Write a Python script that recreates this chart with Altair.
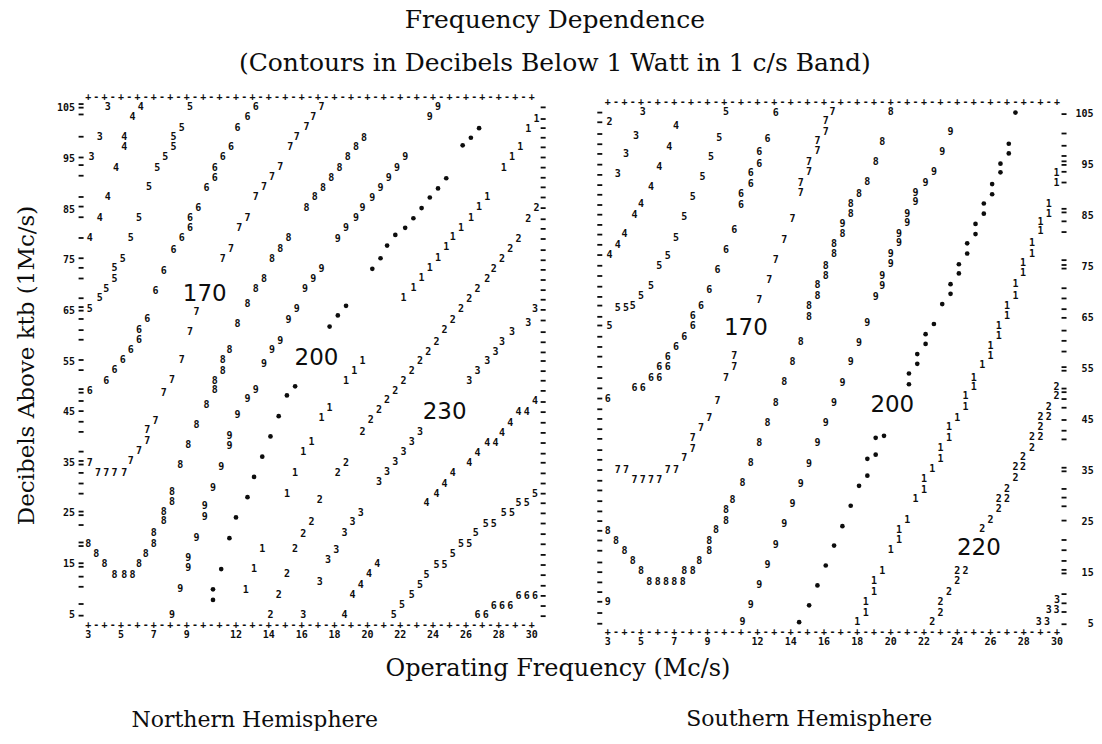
import altair as alt
import pandas as pd

SERIF = "DejaVu Serif"
MONO = "DejaVu Sans Mono"
SANS = "DejaVu Sans"
INK = "#0d0d0d"

# ---------------- axis annotation values ----------------
Y_TICKS = [105, 95, 85, 75, 65, 55, 45, 35, 25, 15, 5]
X_TICKS = [3, 5, 7, 9, 12, 14, 16, 18, 20, 22, 24, 26, 28, 30]
BORDER_PLUS = [3, 4, 5, 6, 7, 8, 9, 10, 11, 12, 13, 14, 15, 16, 17, 18, 19, 20,
               21, 22, 23, 24, 25, 26, 27, 28, 29, 30]

# ---------------- Northern hemisphere (frequency Mc/s, dB above ktb, contour digit) ----------------
NH_UPPER = [
    (4.2, 105.2, "3"), (6.2, 105.2, "4"), (9.2, 105.2, "5"), (13.2, 105.3, "6"), (17.2, 105.3, "7"), (24.3, 105.3, "9"),
    (5.7, 103.3, "4"), (12.7, 103.3, "6"), (16.7, 103.3, "7"), (23.8, 103.3, "9"), (30.3, 103.0, "1"),
    (8.7, 101.2, "5"), (12.1, 101.2, "6"), (16.3, 101.3, "7"), (29.8, 100.9, "1"),
    (3.7, 99.4, "3"), (5.2, 99.4, "4"), (8.2, 99.4, "5"), (15.7, 99.4, "7"), (19.8, 99.2, "8"),
    (5.2, 97.4, "4"), (8.2, 97.3, "5"), (11.7, 97.3, "6"), (15.3, 97.3, "7"), (19.3, 97.3, "8"), (29.3, 97.3, "1"),
    (3.2, 95.3, "3"), (7.7, 95.3, "5"), (11.2, 95.3, "6"), (18.8, 95.3, "8"), (22.3, 95.4, "9"), (28.8, 95.3, "1"),
    (4.7, 93.3, "4"), (7.2, 93.2, "5"), (10.7, 93.2, "6"), (14.7, 93.5, "7"), (18.3, 93.3, "8"), (21.8, 93.3, "9"), (28.3, 93.2, "1"),
    (10.7, 91.3, "6"), (14.2, 91.5, "7"), (17.8, 91.2, "8"), (21.3, 91.3, "9"),
    (6.7, 89.4, "5"), (10.2, 89.2, "6"), (13.7, 89.5, "7"), (17.3, 89.2, "8"), (20.8, 89.2, "9"),
    (4.2, 87.4, "4"), (13.2, 87.5, "7"), (16.8, 87.4, "8"), (20.3, 87.3, "9"), (27.3, 87.5, "1"),
    (9.7, 85.3, "6"), (16.3, 85.3, "8"), (19.7, 85.3, "9"), (26.8, 85.6, "1"), (30.3, 85.3, "2"),
    (3.7, 83.3, "4"), (6.1, 83.3, "5"), (9.2, 83.3, "6"), (12.7, 83.3, "7"), (19.3, 83.3, "9"), (26.3, 83.3, "1"), (29.8, 83.1, "2"),
    (9.2, 81.4, "6"), (12.2, 81.4, "7"), (18.7, 81.4, "9"), (25.7, 81.4, "1"),
    (3.1, 79.4, "4"), (5.6, 79.4, "5"), (8.7, 79.4, "6"), (15.2, 79.4, "8"), (18.2, 79.2, "9"), (25.2, 79.5, "1"), (29.2, 79.2, "2"),
    (8.2, 77.0, "6"), (11.7, 77.2, "7"), (14.7, 77.2, "8"), (24.8, 77.7, "1"), (28.7, 77.2, "2"),
    (5.1, 75.2, "5"), (11.2, 75.2, "7"), (14.2, 75.2, "8"), (24.3, 75.4, "1"), (28.2, 75.2, "2"),
]
NH_MIDDLE = [
    (4.6, 73.4, "5"), (7.6, 72.9, "6"), (17.2, 73.3, "9"), (23.8, 73.4, "1"), (27.7, 73.3, "2"),
    (4.6, 71.3, "5"), (13.7, 71.3, "8"), (16.7, 71.3, "9"), (23.3, 71.5, "1"), (27.3, 71.3, "2"),
    (4.1, 69.3, "5"), (7.1, 68.9, "6"), (13.2, 69.3, "8"), (16.2, 69.3, "9"), (22.8, 69.5, "1"), (26.7, 69.3, "2"),
    (3.7, 67.5, "5"), (12.7, 66.4, "8"), (22.2, 67.5, "1"), (26.2, 67.3, "2"),
    (3.1, 65.4, "5"), (9.6, 64.7, "7"), (15.7, 65.4, "9"), (25.7, 65.4, "2"), (30.2, 65.4, "3"),
    (6.6, 63.4, "6"), (12.1, 62.5, "8"), (15.2, 63.2, "9"), (25.2, 63.2, "2"), (29.8, 62.7, "3"),
    (6.1, 61.2, "6"), (9.2, 60.8, "7"), (24.7, 61.2, "2"), (28.8, 60.8, "3"),
    (6.1, 59.3, "6"), (14.7, 59.1, "9"), (24.2, 58.8, "2"), (28.2, 58.8, "3"),
    (5.6, 57.3, "6"), (11.6, 57.2, "8"), (14.2, 57.2, "9"), (23.7, 56.8, "2"), (27.8, 56.8, "3"),
    (5.1, 55.3, "6"), (8.7, 55.2, "7"), (11.2, 55.2, "8"), (19.7, 55.1, "1"), (23.2, 55.1, "2"), (27.3, 55.1, "3"),
    (13.7, 54.6, "9"),
    (4.6, 53.3, "6"), (11.2, 53.1, "8"), (19.2, 53.1, "1"), (22.7, 53.1, "2"), (26.7, 53.1, "3"),
    (4.1, 51.2, "6"), (8.1, 51.3, "7"), (10.7, 51.2, "8"), (18.7, 51.2, "1"), (22.2, 51.2, "2"), (26.2, 51.2, "3"),
    (3.1, 49.2, "6"), (7.6, 48.8, "7"), (10.7, 49.3, "8"), (13.2, 49.3, "9"), (21.7, 49.2, "2"),
    (12.7, 47.5, "9"), (21.2, 47.4, "2"), (30.2, 47.2, "4"),
    (10.2, 46.4, "8"), (17.7, 45.9, "1"), (20.7, 45.4, "2"), (29.7, 45.1, "4"), (29.2, 45.1, "4"),
    (12.1, 44.4, "9"), (17.2, 43.9, "1"), (20.2, 43.4, "2"), (7.1, 43.3, "7"), (28.7, 42.9, "4"),
    (9.6, 42.4, "8"), (6.6, 41.4, "7"), (19.7, 41.1, "2"), (23.2, 41.1, "3"), (28.2, 40.9, "4"),
    (11.6, 40.3, "9"),
]
NH_LOWER = [
    (6.6, 39.3, "7"), (16.6, 39.1, "1"), (22.7, 39.1, "3"), (27.8, 38.9, "4"), (27.3, 38.9, "4"),
    (9.1, 38.5, "8"), (11.6, 38.3, "9"),
    (6.1, 37.3, "7"), (16.1, 37.2, "1"), (22.2, 37.2, "3"), (26.7, 37.0, "4"),
    (3.1, 35.0, "7"), (5.6, 35.3, "7"), (18.7, 35.0, "2"), (21.7, 35.2, "3"), (26.2, 35.0, "4"),
    (8.6, 34.5, "8"), (11.1, 34.2, "9"),
    (3.6, 33.0, "7"), (4.1, 33.0, "7"), (4.6, 33.0, "7"), (5.2, 33.0, "7"), (15.6, 32.9, "1"), (18.2, 32.9, "2"),
    (21.2, 33.2, "3"), (25.2, 32.9, "4"),
    (20.7, 31.2, "3"), (24.7, 30.9, "4"), (10.6, 30.1, "9"),
    (8.1, 29.3, "8"), (15.1, 28.9, "1"), (24.2, 28.9, "4"), (30.2, 28.9, "5"),
    (17.1, 27.6, "2"), (8.1, 27.2, "8"), (23.6, 27.0, "4"), (29.7, 27.0, "5"), (29.2, 27.0, "5"),
    (10.1, 26.4, "9"),
    (7.6, 25.3, "8"), (19.6, 25.1, "3"), (28.8, 25.0, "5"), (28.3, 25.0, "5"),
    (10.1, 24.3, "9"),
    (7.6, 23.4, "8"), (16.6, 23.2, "2"), (19.1, 23.2, "3"), (27.7, 23.0, "5"), (27.2, 23.0, "5"),
    (7.0, 21.2, "8"), (18.6, 21.2, "3"), (26.6, 21.1, "5"), (16.1, 20.9, "2"),
    (9.6, 20.1, "9"),
    (3.0, 18.9, "8"), (7.0, 18.9, "8"), (26.2, 18.9, "5"), (25.7, 18.9, "5"),
    (13.6, 17.9, "1"), (15.6, 17.9, "2"), (18.1, 17.8, "3"),
    (3.5, 17.0, "8"), (6.5, 17.0, "8"), (25.2, 17.0, "5"),
    (9.1, 16.1, "9"), (17.6, 15.8, "3"),
    (4.0, 15.0, "8"), (6.1, 15.0, "8"), (20.6, 15.0, "4"), (24.7, 14.8, "5"), (24.2, 14.8, "5"),
    (9.1, 14.2, "9"), (13.1, 14.0, "1"),
    (4.6, 12.8, "8"), (5.2, 12.8, "8"), (5.7, 12.8, "8"), (15.1, 13.0, "2"), (20.1, 13.0, "4"), (23.6, 12.8, "5"),
    (17.1, 11.5, "3"), (19.6, 10.9, "4"), (23.2, 10.9, "5"),
    (8.6, 10.0, "9"), (12.6, 9.9, "1"),
    (14.6, 8.9, "2"), (19.1, 8.9, "4"), (22.7, 8.9, "5"), (29.2, 8.7, "6"), (29.7, 8.7, "6"), (30.2, 8.7, "6"),
    (22.1, 6.9, "5"), (27.7, 6.7, "6"), (28.2, 6.7, "6"), (28.7, 6.7, "6"),
    (8.1, 4.9, "9"), (14.1, 4.9, "2"), (16.1, 4.9, "3"), (18.6, 4.9, "4"), (21.6, 4.9, "5"), (26.7, 4.9, "6"), (27.2, 4.9, "6"),
]
NH_DOTS = [
    (26.8, 101.1), (26.3, 99.2), (25.8, 97.7), (24.8, 91.2), (24.3, 89.2), (23.8, 87.4), (23.3, 85.3),
    (22.8, 83.3), (22.3, 81.4), (21.7, 80.0), (21.2, 77.9), (20.8, 75.4), (20.3, 73.3),
    (18.7, 66.0), (18.2, 64.1), (17.7, 61.9), (15.6, 50.1), (15.1, 48.3), (14.6, 44.2), (14.1, 40.2),
    (13.6, 36.2), (13.1, 32.2), (12.7, 28.2), (12.0, 24.2), (11.6, 20.1), (11.1, 14.0), (10.6, 10.0), (10.6, 7.9),
]
NH_LEVELS = [("170", 10.1, 68.3), ("200", 16.9, 55.7), ("230", 24.7, 45.1)]
NH_LEFT_MARKS = [(105.5, "="), (103.8, "-"), (99.4, "-"), (95.3, "-"), (93.8, "-"), (91.7, "-"), (87.5, "-"),
                 (85.6, "-"), (83.5, "-"), (79.4, "-"), (75.4, "-"), (73.5, "-"), (71.4, "-"), (67.5, "-"),
                 (65.4, "="), (63.4, "-"), (61.2, "-"), (59.3, "-"), (55.3, "-"), (53.3, "-"), (49.2, "="),
                 (47.2, "-"), (45.2, "-"), (43.1, "-"), (41.1, "-"), (37.2, "-"), (35.0, "="), (33.0, "-"),
                 (30.9, "-"), (28.9, "-"), (25.0, "="), (22.7, "-"), (18.9, "="), (14.8, "="), (12.5, "-"),
                 (10.5, "-"), (7.1, "-"), (4.8, "-")]
NH_RIGHT_MARKS = [105.2, 102.9, 101.1, 99.2, 97.3, 95.3, 93.3, 91.3, 89.4, 87.4, 85.3, 83.1, 81.2, 79.2,
                  77.0, 75.0, 73.1, 71.1, 69.1, 67.2, 65.2, 63.1, 60.8, 58.8, 56.8, 55.1, 53.1, 51.2, 49.2,
                  47.0, 45.0, 42.9, 40.9, 38.9, 36.8, 35.0, 32.9, 30.9, 28.9, 27.0, 25.0, 23.0, 20.9, 18.9,
                  16.8, 14.8, 12.8, 10.7, 8.7, 6.7, 4.7]

# ---------------- Southern hemisphere ----------------
SH_UPPER = [
    (5.1, 105.4, "3"), (10.1, 105.4, "5"), (13.1, 105.2, "6"), (16.5, 105.4, "7"), (20.0, 105.4, "8"),
    (3.1, 103.3, "2"), (7.1, 102.6, "4"), (16.1, 103.6, "7"),
    (4.7, 100.6, "3"), (9.7, 100.3, "5"), (12.6, 100.0, "6"), (16.1, 101.3, "7"), (23.6, 101.3, "9"),
    (15.6, 99.7, "7"), (19.5, 99.5, "8"),
    (6.7, 98.5, "4"), (15.6, 97.7, "7"), (12.1, 97.4, "6"), (23.1, 97.4, "9"),
    (4.1, 97.1, "3"), (9.2, 96.5, "5"),
    (12.1, 95.2, "6"), (15.1, 95.6, "7"), (19.1, 95.6, "8"),
    (6.1, 94.6, "4"), (15.1, 93.5, "7"), (22.6, 93.5, "9"), (29.96, 93.3, "1"),
    (3.6, 93.1, "3"), (8.7, 92.6, "5"), (11.6, 93.3, "6"),
    (11.6, 91.2, "6"), (14.6, 91.5, "7"), (18.6, 91.6, "8"), (22.1, 91.4, "9"), (29.96, 91.5, "1"),
    (5.6, 90.7, "4"),
    (14.6, 89.4, "7"), (8.1, 88.6, "5"), (11.0, 89.2, "6"), (18.1, 89.2, "8"), (21.5, 89.5, "9"),
    (11.0, 87.1, "6"), (5.0, 87.3, "4"), (17.6, 87.3, "8"), (21.5, 87.6, "9"), (29.5, 87.3, "1"),
    (4.6, 85.1, "4"), (7.6, 84.7, "5"), (14.1, 84.3, "7"), (17.6, 85.3, "8"), (21.0, 85.4, "9"), (29.5, 85.3, "1"),
    (17.1, 83.4, "9"), (21.0, 83.5, "9"), (29.0, 83.8, "1"),
    (10.6, 82.2, "6"), (29.0, 82.0, "1"),
    (4.0, 81.4, "4"), (17.1, 81.4, "8"), (20.5, 81.4, "9"),
    (7.1, 80.7, "5"), (13.6, 80.3, "7"),
    (3.6, 79.2, "4"), (16.6, 79.4, "8"), (20.5, 79.6, "9"), (28.5, 79.6, "1"),
    (10.1, 78.3, "6"),
    (3.1, 77.3, "4"), (6.6, 77.2, "5"), (16.6, 77.5, "8"), (20.0, 77.5, "9"), (28.5, 77.6, "1"),
    (13.1, 76.3, "7"),
    (6.1, 75.2, "5"), (16.1, 75.2, "8"), (20.0, 75.5, "9"), (27.96, 75.7, "1"),
]
SH_MIDDLE = [
    (9.6, 74.3, "6"), (16.1, 73.2, "8"), (19.5, 73.2, "9"), (27.96, 73.7, "1"),
    (12.7, 72.4, "7"),
    (5.6, 71.3, "5"), (15.6, 71.4, "8"), (19.5, 71.3, "9"), (27.5, 71.6, "1"),
    (9.1, 70.4, "6"),
    (5.0, 69.3, "5"), (15.6, 69.3, "8"), (19.1, 69.1, "9"), (27.5, 69.3, "1"),
    (12.1, 68.5, "7"),
    (3.6, 67.0, "5"), (4.1, 67.0, "5"), (4.5, 67.4, "5"), (8.6, 67.3, "6"), (15.1, 67.4, "8"), (27.0, 67.4, "1"),
    (8.1, 65.4, "6"), (15.1, 65.2, "8"), (27.0, 65.4, "1"),
    (3.1, 63.5, "5"), (8.1, 63.5, "6"), (18.6, 63.9, "9"), (26.5, 63.5, "1"),
    (7.6, 61.3, "6"), (26.5, 61.5, "1"),
    (14.6, 60.2, "8"), (18.1, 60.0, "9"), (26.0, 59.5, "1"),
    (7.1, 59.3, "6"),
    (10.6, 57.6, "7"), (6.6, 57.4, "6"), (26.0, 57.6, "1"),
    (14.1, 56.4, "8"), (17.6, 56.3, "9"), (25.5, 55.8, "1"),
    (6.1, 55.3, "6"), (6.6, 55.3, "6"), (10.6, 55.3, "7"),
    (5.6, 53.2, "6"), (6.1, 53.2, "6"), (10.1, 53.3, "7"), (25.0, 53.3, "1"),
    (13.6, 52.4, "8"), (17.1, 52.2, "9"),
    (4.6, 51.2, "6"), (5.1, 51.2, "6"), (25.0, 51.4, "1"), (29.96, 51.5, "2"),
    (3.0, 49.2, "6"), (24.5, 49.6, "1"), (29.96, 49.6, "2"),
    (9.6, 48.8, "7"), (13.1, 48.4, "8"), (16.6, 48.4, "9"),
    (29.5, 47.6, "2"), (24.5, 47.5, "1"),
    (9.1, 45.3, "7"), (24.0, 45.4, "1"), (29.0, 45.6, "2"), (29.5, 45.6, "2"),
    (12.6, 44.5, "8"), (16.1, 44.4, "9"),
    (8.6, 43.4, "7"), (23.5, 43.6, "1"), (29.0, 43.7, "2"),
    (8.1, 41.4, "7"), (23.5, 41.5, "1"), (28.5, 41.6, "2"), (29.0, 41.6, "2"),
    (12.1, 40.4, "8"), (15.6, 40.4, "9"),
]
SH_LOWER = [
    (8.1, 39.4, "7"), (23.0, 39.5, "1"), (28.5, 39.6, "2"),
    (7.6, 37.5, "7"), (23.0, 37.4, "1"), (27.96, 37.7, "2"),
    (11.6, 36.5, "8"), (15.1, 36.4, "9"),
    (3.6, 35.2, "7"), (4.1, 35.2, "7"), (6.6, 35.2, "7"), (7.1, 35.2, "7"), (22.5, 35.4, "1"), (27.5, 35.7, "2"), (27.96, 35.7, "2"),
    (4.6, 33.2, "7"), (5.1, 33.2, "7"), (5.6, 33.2, "7"), (6.1, 33.2, "7"), (22.0, 33.4, "1"), (27.5, 33.6, "2"),
    (11.1, 32.6, "8"), (14.6, 32.5, "9"),
    (22.0, 31.3, "1"), (27.0, 31.5, "2"),
    (10.5, 29.3, "8"), (21.5, 29.5, "1"), (26.5, 29.5, "2"), (27.0, 29.5, "2"),
    (14.1, 28.6, "9"),
    (10.1, 27.4, "8"), (26.5, 27.6, "2"),
    (10.1, 25.3, "8"), (21.0, 25.4, "1"), (26.0, 25.4, "2"),
    (13.6, 24.6, "9"),
    (3.0, 23.3, "8"), (9.5, 23.4, "8"), (20.5, 23.5, "1"), (25.5, 23.7, "2"),
    (3.5, 21.4, "8"), (9.1, 21.4, "8"), (20.5, 21.5, "1"),
    (13.1, 20.6, "9"),
    (4.0, 19.3, "8"), (9.1, 19.4, "8"), (20.0, 19.5, "1"),
    (4.5, 17.3, "8"), (8.5, 17.3, "8"),
    (12.6, 16.7, "9"),
    (5.0, 15.5, "8"), (7.6, 15.5, "8"), (8.1, 15.5, "8"), (19.5, 15.5, "1"), (24.0, 15.5, "2"), (24.5, 15.5, "2"),
    (5.5, 13.3, "8"), (6.0, 13.3, "8"), (6.5, 13.3, "8"), (7.0, 13.3, "8"), (7.5, 13.3, "8"), (19.0, 13.5, "1"), (24.0, 13.5, "2"),
    (12.1, 12.7, "9"),
    (19.0, 11.3, "1"), (23.5, 11.4, "2"),
    (3.0, 9.4, "9"), (18.5, 9.3, "1"), (23.0, 9.3, "2"), (30.0, 9.8, "3"),
    (11.6, 8.7, "9"),
    (18.5, 7.3, "1"), (23.0, 7.3, "2"), (29.5, 7.7, "3"), (29.96, 7.7, "3"),
    (11.1, 5.5, "9"), (18.0, 5.4, "1"), (22.5, 5.4, "2"), (28.9, 5.5, "3"), (29.4, 5.5, "3"),
]
SH_DOTS = [
    (27.5, 105.2), (27.1, 99.1), (27.1, 97.2), (26.6, 95.2), (26.6, 93.5), (26.1, 91.2), (26.1, 89.2),
    (25.6, 87.4), (25.6, 85.4), (25.1, 83.4), (25.1, 81.4), (24.6, 79.6), (24.6, 77.6), (24.1, 75.5),
    (24.1, 73.7), (23.6, 71.6), (23.6, 69.7), (23.1, 67.7), (22.6, 63.8), (22.1, 61.8), (22.1, 59.9),
    (21.6, 57.9), (21.6, 56.0), (21.1, 54.1), (21.1, 52.0), (19.6, 41.9), (19.1, 41.5), (19.1, 38.2),
    (18.6, 37.4), (18.6, 34.1), (18.1, 32.1), (17.6, 28.2), (17.1, 24.2), (16.6, 20.4), (16.1, 16.5),
    (15.6, 12.6), (15.1, 8.7), (14.5, 5.4),
]
SH_LEVELS = [("170", 11.3, 63.0), ("200", 20.1, 48.0), ("220", 25.3, 19.9)]
SH_LEFT_MARKS = [105.2, 103.3, 101.0, 99.0, 97.1, 95.0, 93.0, 91.0, 89.1, 87.1, 85.2, 83.2, 81.3, 79.3,
                 77.3, 75.2, 73.2, 71.1, 69.1, 67.4, 65.2, 63.5, 61.3, 59.3, 57.4, 55.4, 53.2, 51.2, 49.2,
                 47.1, 45.2, 43.2, 41.3, 39.1, 37.2, 35.2, 33.1, 31.2, 29.1, 27.1, 25.2, 23.3, 21.4, 19.4,
                 17.1, 15.2, 13.2, 11.3, 9.4, 7.2, 5.1]
SH_RIGHT_MARKS = [(104.9, "-"), (101.1, "-"), (98.7, "-"), (96.7, "-"), (95.3, "="), (93.6, "-"), (91.5, "-"),
                  (86.0, "="), (83.9, "-"), (81.8, "-"), (76.3, "-"), (75.0, "="), (70.8, "-"), (68.8, "-"),
                  (66.7, "-"), (65.0, "-"), (62.5, "-"), (60.5, "-"), (58.4, "-"), (55.0, "="), (50.8, "="),
                  (49.1, "-"), (47.4, "-"), (45.0, "-"), (42.9, "-"), (41.2, "-"), (35.3, "="), (31.5, "-"),
                  (29.8, "-"), (28.1, "-"), (25.3, "-"), (21.5, "-"), (19.5, "-"), (17.4, "-"), (15.3, "="),
                  (10.9, "-"), (9.1, "-"), (7.4, "-"), (5.0, "-")]

# frame rows (dB of the printed +-+- border lines)
NH_TOP, NH_BOTTOM = 107.2, 3.0
SH_TOP, SH_BOTTOM = 107.2, 3.4


def digits_df(*groups):
    rows = [r for g in groups for r in g]
    return pd.DataFrame(rows, columns=["f", "db", "ch"])


def border_df(top, bottom):
    rows = []
    for f in BORDER_PLUS:
        rows += [(f, top, "+"), (f, bottom, "+")]
        if f < BORDER_PLUS[-1]:
            rows += [(f + 0.5, top, "-"), (f + 0.5, bottom, "-")]
    return pd.DataFrame(rows, columns=["f", "db", "ch"])


def panel(digits, dots, levels, top, bottom, side_marks, ylabel_f, ylabel_align, ylabel_dx,
          xdom, ydom, width, xaxis, yaxis, caption):
    xs = alt.Scale(domain=xdom, nice=False, zero=False)
    ys = alt.Scale(domain=ydom, nice=False, zero=False)
    X = alt.X("f:Q", scale=xs, axis=xaxis)
    Y = alt.Y("db:Q", scale=ys, axis=yaxis)
    small = dict(font=MONO, fontWeight="bold", fontSize=10, color=INK, align="center", baseline="middle")

    dig = alt.Chart(digits).mark_text(**small).encode(x=X, y=Y, text="ch:N")
    dot = alt.Chart(pd.DataFrame(dots, columns=["f", "db"])).mark_circle(
        size=22, color=INK, opacity=1).encode(x=X, y=Y)
    lev = alt.Chart(pd.DataFrame(levels, columns=["ch", "f", "db"])).mark_text(
        font=SANS, fontSize=23, color=INK, align="center", baseline="middle").encode(x=X, y=Y, text="ch:N")
    brd = alt.Chart(border_df(top, bottom)).mark_text(**small).encode(x=X, y=Y, text="ch:N")
    # printer tick dashes on the side edges: single "-" and double "="
    singles = side_marks[side_marks["ch"] == "-"]
    doubles = side_marks[side_marks["ch"] == "="]
    tick = dict(orient="horizontal", size=5, thickness=1.8, color=INK, opacity=1)
    side1 = alt.Chart(singles).mark_tick(**tick).encode(x=X, y=Y)
    side2a = alt.Chart(doubles).mark_tick(yOffset=-1.8, **tick).encode(x=X, y=Y)
    side2b = alt.Chart(doubles).mark_tick(yOffset=1.8, **tick).encode(x=X, y=Y)
    ylab = alt.Chart(pd.DataFrame({"f": [ylabel_f] * len(Y_TICKS), "db": Y_TICKS,
                                   "ch": [str(v) for v in Y_TICKS]})).mark_text(
        font=MONO, fontWeight="bold", fontSize=10, color=INK, align=ylabel_align,
        baseline="middle", dx=ylabel_dx).encode(x=X, y=Y, text="ch:N")
    xlab = alt.Chart(pd.DataFrame({"f": X_TICKS, "db": [bottom] * len(X_TICKS),
                                   "ch": [str(v) for v in X_TICKS]})).mark_text(
        font=MONO, fontWeight="bold", fontSize=10, color=INK, align="center",
        baseline="middle", dy=10).encode(x=X, y=Y, text="ch:N")
    return alt.layer(brd, side1, side2a, side2b, ylab, xlab, dig, dot, lev).properties(
        width=width, height=528, title=caption)


# side tick marks
nh_side = pd.DataFrame(
    [(2.57, d, c) for d, c in NH_LEFT_MARKS] + [(30.7, d, "-") for d in NH_RIGHT_MARKS],
    columns=["f", "db", "ch"])
sh_side = pd.DataFrame(
    [(2.52, d, "-") for d in SH_LEFT_MARKS] + [(30.42, d, c) for d, c in SH_RIGHT_MARKS],
    columns=["f", "db", "ch"])

nh_xaxis = alt.Axis(title="Operating Frequency (Mc/s)", labels=False, ticks=False, domain=False, grid=False,
                    titleFont=SERIF, titleFontSize=24, titleFontWeight="normal", titleColor=INK,
                    titleX=478, titleY=44, titleAlign="center", titleBaseline="middle")
nh_yaxis = alt.Axis(title="Decibels Above ktb (1Mc/s)", labels=False, ticks=False, domain=False, grid=False,
                    titleFont=SERIF, titleFontSize=23, titleFontWeight="normal", titleColor=INK,
                    titleX=-53, titleY=268, titleAngle=270, titleAlign="center", titleBaseline="middle")

left = panel(digits_df(NH_UPPER, NH_MIDDLE, NH_LOWER), NH_DOTS, NH_LEVELS, NH_TOP, NH_BOTTOM, nh_side,
             2.57, "right", -6, [2.5, 30.6], [3.0, 107.2], 462, nh_xaxis, nh_yaxis,
             alt.TitleParams("Northern Hemisphere", orient="bottom", anchor="middle", frame="group",
                             font=SERIF, fontSize=22, fontWeight="normal", color=INK, offset=29, dx=-56))
right = panel(digits_df(SH_UPPER, SH_MIDDLE, SH_LOWER), SH_DOTS, SH_LEVELS, SH_TOP, SH_BOTTOM, sh_side,
              32.2, "right", 0, [2.5, 30.6], [4.9, 108.2], 468, None, None,
              alt.TitleParams("Southern Hemisphere", orient="bottom", anchor="middle", frame="group",
                              font=SERIF, fontSize=22, fontWeight="normal", color=INK, offset=62, dx=-24))

chart = alt.hconcat(left, right, spacing=58, bounds="flush").properties(
    title=alt.TitleParams(
        text="Frequency Dependence",
        subtitle="(Contours in Decibels Below 1 Watt in 1 c/s Band)",
        anchor="middle", font=SERIF, fontSize=25, fontWeight="normal", color=INK,
        subtitleFont=SERIF, subtitleFontSize=25, subtitleColor=INK, subtitlePadding=18, offset=16),
    padding={"left": 8, "top": 0, "right": 0, "bottom": 0},
    background="white",
).configure_view(stroke=None)

chart.save("out.html", embed_options={"renderer": "svg", "actions": False})
